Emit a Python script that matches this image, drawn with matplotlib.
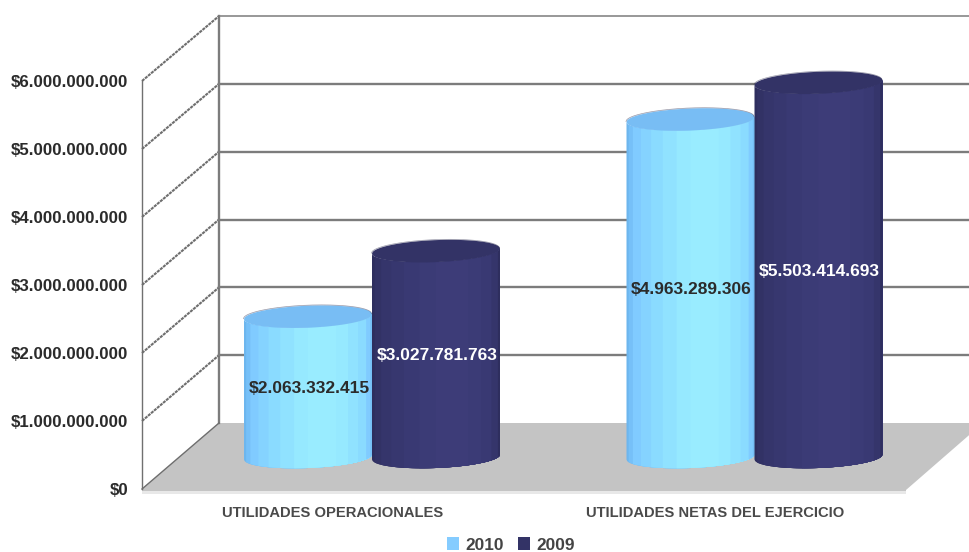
import numpy as np
import matplotlib
matplotlib.use("Agg")
import matplotlib.pyplot as plt
from matplotlib.patches import Patch, Polygon

categories = ["UTILIDADES OPERACIONALES", "UTILIDADES NETAS DEL EJERCICIO"]
series_names = ["2010", "2009"]
values_2010 = [2063332415, 4963289306]
values_2009 = [3027781763, 5503414693]
value_labels_2010 = ["$2.063.332.415", "$4.963.289.306"]
value_labels_2009 = ["$3.027.781.763", "$5.503.414.693"]
y_ticks = [0, 1e9, 2e9, 3e9, 4e9, 5e9, 6e9]
y_tick_labels = ["$0", "$1.000.000.000", "$2.000.000.000", "$3.000.000.000",
                 "$4.000.000.000", "$5.000.000.000", "$6.000.000.000"]

W, H = 970, 552
PX_X = 1 / 382.5          # category units per pixel
PX_Y = 1e9 / 68.0         # value units per pixel
CAT0_PX, ZERO_PX = 371.5, 489.0

plt.rcParams["font.family"] = ["Liberation Sans", "DejaVu Sans"]
plt.rcParams["font.weight"] = "bold"
fig = plt.figure(figsize=(W / 100, H / 100), dpi=100)
ax = fig.add_axes([0, 0, 1, 1])
ax.set_xlim(-CAT0_PX * PX_X, (W - CAT0_PX) * PX_X)
ax.set_ylim((ZERO_PX - H) * PX_Y, ZERO_PX * PX_Y)
for s in ax.spines.values():
    s.set_visible(False)

# plot box geometry
x_front = (142 - CAT0_PX) * PX_X
x_back = (219 - CAT0_PX) * PX_X
x_front_r = (906 - CAT0_PX) * PX_X
x_right = (W - CAT0_PX) * PX_X
depth_y = 66 * PX_Y
BACK_SCALE = 67.83 / 68.0
GRID = "#7C7C7C"


def back(v):
    return depth_y + v * BACK_SCALE


# floor
ax.add_patch(Polygon([(x_front, -3 * PX_Y), (x_front, 0), (x_back, depth_y),
                      (x_front_r + 77 * PX_X, depth_y), (x_front_r, -1 * PX_Y),
                      (x_front_r, -3 * PX_Y)],
                     closed=True, fc="#C4C4C4", ec="none", zorder=1))
ax.fill_between([x_front, x_front_r], -5 * PX_Y, -1.5 * PX_Y, color="#E8E8E8", lw=0, zorder=1)

# walls and gridlines
top = y_ticks[-1]
ax.plot([x_front, x_front], [0, top], color="#707070", lw=1.0, zorder=2)
ax.plot([x_back, x_back], [back(0), back(top)], color=GRID, lw=1.7, zorder=2)
for v in y_ticks:
    ax.plot([x_front, x_back], [v, back(v)], color="#6E6E6E", lw=1.5 if v else 1.0,
            ls=(0, (1.5, 0.4)) if v else "-", zorder=2)
    if v:
        ax.plot([x_back, x_right], [back(v)] * 2, color=GRID, lw=1.7 if v < top else 1.1, zorder=2)

# cylinders
LIGHT = ["#6DB6EE", "#76C0F8", "#80CBFF", "#85D3FF", "#8ADBFF", "#90E2FF", "#96E9FF",
         "#99ECFF", "#99ECFF", "#96E9FF", "#90E2FF", "#8ADBFF", "#80CBFF", "#76BFF6"]
DARK = ["#2E2E5E", "#323265", "#35356B", "#37376F", "#393973", "#3B3B76", "#3D3C78",
        "#3D3C78", "#3B3B76", "#393973", "#35356B", "#2E2E5E"]
BASE = 32.5 * PX_Y
BAR_W = 128 * PX_X
RY = 11 * PX_Y
TILT = 2.5 * PX_Y


def cylinder(cx, value, bands, top_color, label, txt_color):
    t = np.linspace(-1, 1, 241)
    xs = cx + t * BAR_W / 2
    lower = -RY * np.sqrt(1 - t ** 2) + TILT * t
    upper = RY * np.sqrt(1 - t ** 2) + TILT * t
    edges = 1 - 2 * 0.5 * (1 + np.cos(np.linspace(0, np.pi, len(bands) + 1)))
    # each band runs to the right edge; the next one paints over it, so no seams show
    for b, col in enumerate(bands):
        m = t >= edges[b]
        ax.fill_between(xs[m], BASE + lower[m], BASE + value + lower[m], color=col, lw=0, zorder=3)
    ax.fill_between(xs, BASE + value + lower, BASE + value + upper, color=top_color, lw=0, zorder=3)
    ax.plot(xs, BASE + value + upper, color="#303050", lw=0.5, alpha=0.5, zorder=3)
    ax.text(cx + 1.5 * PX_X, BASE + value / 2 - 2 * PX_Y, label, color=txt_color,
            ha="center", va="center", fontsize=12.5, fontweight="bold", zorder=5)


for i in range(len(categories)):
    cylinder(i - BAR_W / 2, values_2010[i], LIGHT, "#78BDF4", value_labels_2010[i], "#2B2B2B")
    cylinder(i + BAR_W / 2, values_2009[i], DARK, "#333366", value_labels_2009[i], "#FFFFFF")

# axis texts
ax.set_yticks(y_ticks)
ax.set_yticklabels(y_tick_labels)
ax.tick_params(axis="y", length=0, pad=-92.5, labelsize=12.2, labelcolor="#2B2B2B")
ax.set_xticks([i - 38.5 * PX_X for i in range(len(categories))])
ax.set_xticklabels(categories)
ax.tick_params(axis="x", length=0, pad=-33.2, labelsize=10.6, labelcolor="#4A4A4A")

# legend
handles = [Patch(fc="#85CCFF", ec="none"), Patch(fc="#333366", ec="none")]
leg = ax.legend(handles, series_names, ncol=2, loc="center left",
                bbox_to_anchor=(447 / W, 1 - 545 / H), frameon=False,
                handlelength=0.72, handleheight=0.72, handletextpad=0.36,
                columnspacing=0.8, borderpad=0, borderaxespad=0, labelcolor="#444444",
                prop={"size": 12.4, "weight": "bold", "family": "Liberation Sans"})

fig.savefig("out.png", dpi=100)
